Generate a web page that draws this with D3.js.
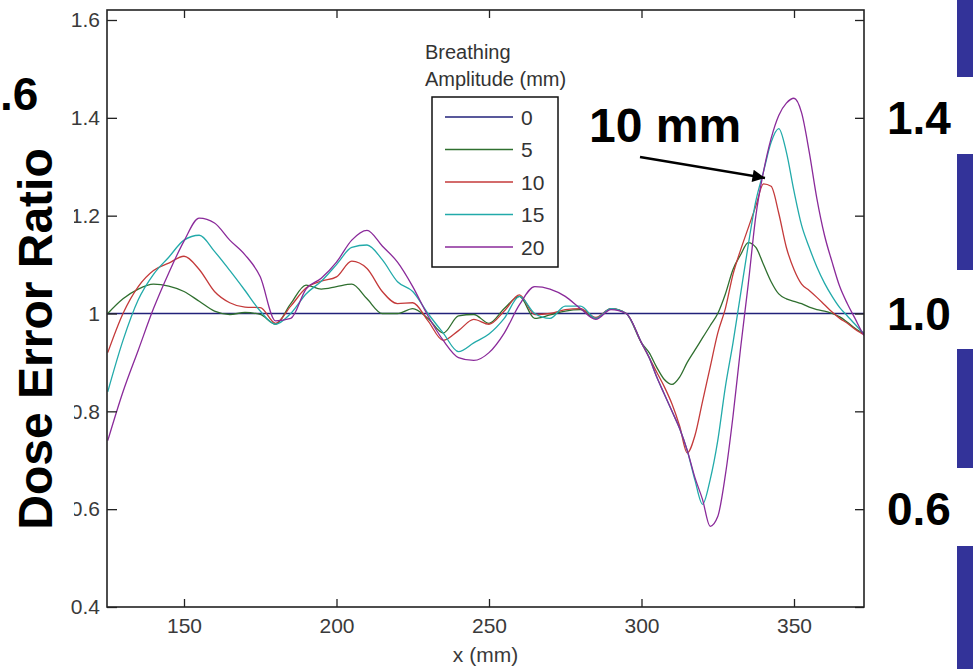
<!DOCTYPE html>
<html>
<head>
<meta charset="utf-8">
<script src="https://cdn.jsdelivr.net/npm/d3@7"></script>
<style>
  body { margin: 0; background: #fff; }
  svg { display: block; font-family: "Liberation Sans", Arial, sans-serif; }
</style>
</head>
<body>
<script>
// position along x (mm)
var xMm = [125,130,135,140,145,150,155,160,165,170,175,180,185,190,195,200,205,210,215,220,
  225,230,235,240,245,250,255,260,265,270,275,280,285,290,295,300,
  302.5,305,307.5,310,312.5,315,317.5,320,322.5,325,327.5,330,332.5,335,337.5,340,342.5,345,
  347.5,350,352.5,355,357.5,360,362.5,365,367.5,370,372.5,373];

// dose error ratio per breathing amplitude
var amp0 = [1,1,1,1,1,1,1,1,1,1,1,1,1,1,1,1,1,1,1,1,1,1,1,1,1,1,1,1,1,1,1,1,1,1,1,1,
  1,1,1,1,1,1,1,1,1,1,1,1,1,1,1,1,1,1,1,1,1,1,1,1,1,1,1,1,1,1];
var amp5 = [1.00,1.03,1.05,1.06,1.056,1.045,1.025,1.005,0.998,1.002,0.998,0.978,1.02,1.058,1.05,1.055,1.06,1.03,1.0,1.0,
  1.01,0.99,0.96,0.995,0.998,0.98,1.01,1.035,0.99,0.997,1.005,1.008,0.99,1.01,1.0,0.94,
  0.92,0.89,0.865,0.855,0.87,0.9,0.925,0.95,0.975,1.0,1.04,1.09,1.12,1.145,1.135,1.1,1.065,1.04,
  1.03,1.025,1.02,1.013,1.008,1.005,1.0,0.993,0.982,0.97,0.96,0.958];
var amp10 = [0.92,1.0,1.055,1.088,1.103,1.117,1.09,1.045,1.022,1.013,1.012,0.98,1.015,1.052,1.066,1.075,1.107,1.092,1.045,1.02,
  1.022,0.985,0.945,0.965,0.988,0.978,1.005,1.038,0.998,1.0,1.008,1.01,0.992,1.01,1.0,0.94,
  0.91,0.88,0.85,0.815,0.77,0.715,0.75,0.82,0.89,0.96,1.01,1.08,1.13,1.175,1.22,1.265,1.26,1.205,
  1.135,1.09,1.06,1.047,1.033,1.018,1.003,0.99,0.98,0.968,0.958,0.956];
var amp15 = [0.84,0.945,1.028,1.08,1.115,1.15,1.16,1.127,1.088,1.047,1.005,0.978,1.0,1.04,1.066,1.1,1.135,1.14,1.11,1.065,
  1.045,1.0,0.96,0.922,0.94,0.958,0.99,1.035,1.0,0.99,1.015,1.015,0.99,1.01,1.0,0.94,
  0.91,0.87,0.835,0.8,0.765,0.72,0.66,0.61,0.66,0.74,0.85,0.94,1.04,1.14,1.23,1.29,1.35,1.378,
  1.33,1.25,1.18,1.135,1.095,1.062,1.035,1.012,0.995,0.978,0.962,0.96];
var amp20 = [0.74,0.84,0.925,1.01,1.083,1.148,1.195,1.185,1.15,1.12,1.075,0.985,0.99,1.05,1.072,1.105,1.15,1.17,1.138,1.105,
  1.055,0.995,0.945,0.91,0.904,0.92,0.96,1.018,1.055,1.05,1.035,1.01,0.988,1.008,1.0,0.94,
  0.91,0.87,0.835,0.8,0.765,0.72,0.665,0.62,0.565,0.585,0.67,0.79,0.93,1.06,1.2,1.29,1.358,1.405,
  1.43,1.44,1.41,1.33,1.235,1.16,1.105,1.055,1.02,0.99,0.96,0.955];

var amplitudes = ["0", "5", "10", "15", "20"];
var seriesColors = ["#22227a", "#2f6f2f", "#c43a3a", "#22aaaa", "#8a2a9a"];
var xTicks = [150, 200, 250, 300, 350];
var yTicks = [0.4, 0.6, 0.8, 1.0, 1.2, 1.4, 1.6];
var slideTicks = [1.4, 1.0, 0.6];

var allSeries = [amp0, amp5, amp10, amp15, amp20];

var W = 973, H = 669;
var box = {left: 107, right: 864, top: 10, bottom: 607};

var svg = d3.select("body").append("svg")
  .attr("width", W)
  .attr("height", H);

var x = d3.scaleLinear().domain([150, 350]).range([184, 794]);
var y = d3.scaleLinear().domain([0.4, 1.6]).range([607, 20]);

// slide decoration: blue blocks at right edge
var blocks = [[0, 77], [154, 270], [349, 468], [546, 669]];
svg.selectAll("rect.block").data(blocks).enter().append("rect")
  .attr("class", "block")
  .attr("x", 957).attr("width", W - 957)
  .attr("y", function(d){ return d[0]; })
  .attr("height", function(d){ return d[1] - d[0]; })
  .attr("fill", "#333399");

svg.append("clipPath").attr("id", "plot-clip")
  .append("rect")
  .attr("x", box.left).attr("y", box.top)
  .attr("width", box.right - box.left).attr("height", box.bottom - box.top);

// curves
var line = d3.line()
  .x(function(d){ return x(d[0]); })
  .y(function(d){ return y(d[1]); })
  .curve(d3.curveMonotoneX);

svg.append("g").attr("clip-path", "url(#plot-clip)")
  .selectAll("path").data(allSeries).enter().append("path")
  .attr("fill", "none")
  .attr("stroke", function(d, i){ return seriesColors[i]; })
  .attr("stroke-width", function(d, i){ return i == 0 ? 1.6 : 1.3; })
  .attr("d", function(vals){ return line(vals.map(function(v, j){ return [xMm[j], v]; })); });

// axes, matlab style with ticks inside
function styleAxis(g) {
  g.select(".domain").remove();
  g.selectAll("line").attr("stroke", "#222").attr("stroke-width", 1.3);
  g.selectAll("text").attr("fill", "#3a3a3a").style("font-size", "21px")
    .style("font-family", "'Liberation Sans', Arial, sans-serif");
}

svg.append("g")
  .attr("transform", "translate(0," + box.bottom + ")")
  .call(d3.axisBottom(x).tickValues(xTicks).tickSizeInner(-8).tickSizeOuter(0).tickPadding(11))
  .call(styleAxis);

svg.append("g")
  .attr("transform", "translate(0," + box.top + ")")
  .call(d3.axisTop(x).tickValues(xTicks).tickSizeInner(-8).tickSizeOuter(0).tickFormat(""))
  .call(styleAxis);

svg.append("g")
  .attr("transform", "translate(" + box.left + ",0)")
  .call(d3.axisLeft(y).tickValues(yTicks).tickSizeInner(-10).tickSizeOuter(0).tickPadding(7)
    .tickFormat(d3.format("~g")))
  .call(styleAxis);

svg.append("g")
  .attr("transform", "translate(" + box.right + ",0)")
  .call(d3.axisRight(y).tickValues(yTicks).tickSizeInner(-9).tickSizeOuter(0).tickFormat(""))
  .call(styleAxis);

svg.append("rect")
  .attr("x", box.left).attr("y", box.top)
  .attr("width", box.right - box.left).attr("height", box.bottom - box.top)
  .attr("fill", "none").attr("stroke", "#222").attr("stroke-width", 1.6);

svg.append("text")
  .attr("x", (box.left + box.right) / 2).attr("y", 662)
  .attr("text-anchor", "middle")
  .attr("fill", "#3a3a3a").style("font-size", "21px")
  .text("x (mm)");

// legend
var legTitle = ["Breathing", "Amplitude (mm)"];
svg.selectAll("text.legtitle").data(legTitle).enter().append("text")
  .attr("class", "legtitle")
  .attr("x", 425).attr("y", function(d, i){ return 59 + i * 27; })
  .attr("fill", "#333").style("font-size", "20px")
  .text(function(d){ return d; });

svg.append("rect")
  .attr("x", 432).attr("y", 97).attr("width", 126).attr("height", 170)
  .attr("fill", "#fff").attr("stroke", "#111").attr("stroke-width", 1.5);

var leg = svg.selectAll("g.leg").data(amplitudes).enter().append("g")
  .attr("class", "leg")
  .attr("transform", function(d, i){ return "translate(0," + (117 + i * 32.5) + ")"; });
leg.append("line")
  .attr("x1", 445).attr("x2", 513)
  .attr("stroke", function(d, i){ return seriesColors[i]; })
  .attr("stroke-width", 1.4);
leg.append("text")
  .attr("x", 521).attr("dy", "0.36em")
  .attr("fill", "#333").style("font-size", "21px")
  .text(function(d){ return d; });

// slide overlay: big axis title with white backing
svg.append("rect").attr("x", 0).attr("y", 130).attr("width", 74).attr("height", 430).attr("fill", "#fff");
svg.append("text")
  .attr("transform", "translate(52,339) rotate(-90)")
  .attr("text-anchor", "middle")
  .style("font-size", "48px").style("font-weight", "bold")
  .attr("fill", "#000")
  .text("Dose Error Ratio");

// left slide label, only its tail is visible
svg.append("text")
  .attr("x", 0).attr("y", 110)
  .style("font-size", "46px").style("font-weight", "bold")
  .text(".6");

svg.selectAll("text.slide").data(slideTicks).enter().append("text")
  .attr("class", "slide")
  .attr("x", 887).attr("y", function(d){ return y(d) + 16; })
  .style("font-size", "46px").style("font-weight", "bold")
  .text(function(d){ return d3.format(".1f")(d); });

// annotation
svg.append("defs").append("marker")
  .attr("id", "arrow")
  .attr("viewBox", "0 0 10 10")
  .attr("refX", 10).attr("refY", 5)
  .attr("markerWidth", 7).attr("markerHeight", 5)
  .attr("markerUnits", "strokeWidth")
  .attr("orient", "auto")
  .append("path").attr("d", "M0,0L10,5L0,10z").attr("fill", "#000");

svg.append("line")
  .attr("x1", 640).attr("y1", 157).attr("x2", 765).attr("y2", 178)
  .attr("stroke", "#000").attr("stroke-width", 2.5)
  .attr("marker-end", "url(#arrow)");

svg.append("text")
  .attr("x", 589).attr("y", 142)
  .style("font-size", "48px").style("font-weight", "bold")
  .text("10 mm");
</script>
</body>
</html>
